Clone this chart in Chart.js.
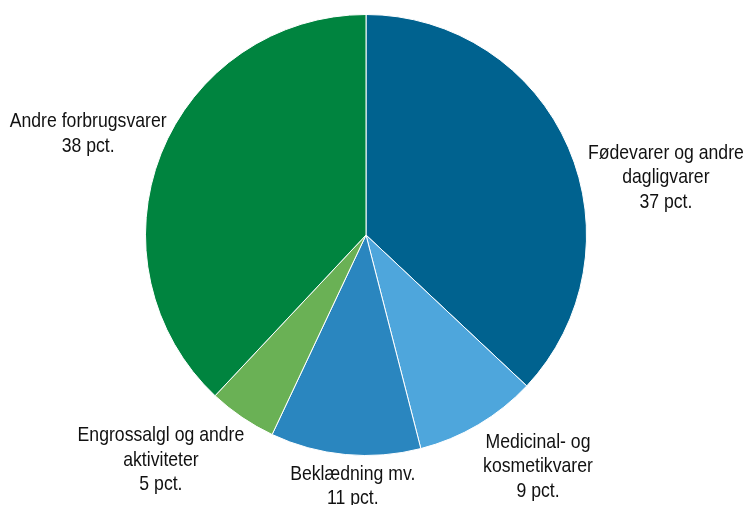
<!DOCTYPE html>
<html>
<head>
<meta charset="utf-8">
<script src="https://cdn.jsdelivr.net/npm/chart.js@4"></script>
<style>
  html, body { margin: 0; padding: 0; background: #fff; }
  #wrap { width: 746px; height: 505px; position: relative; }
</style>
</head>
<body>
<div id="wrap"><canvas id="pieChart"></canvas></div>
<script>
const categories = [
  ['Fødevarer og andre', 'dagligvarer'],
  ['Medicinal- og', 'kosmetikvarer'],
  ['Beklædning mv.'],
  ['Engrossalgl og andre', 'aktiviteter'],
  ['Andre forbrugsvarer']
];
const shares = [37, 9, 11, 5, 38];
const sliceColors = ['#00628f', '#4ea6dc', '#2a86bf', '#6ab155', '#00843f'];

// where each label block sits, relative to the pie centre in units of the radius
const labelPlace = [[1.36, -0.26], [0.78, 1.05], [-0.06, 1.14], [-0.93, 1.02], [-1.26, -0.46]];

// no narrow font installed, so squeeze Liberation Sans sideways
const squeeze = 0.84;

const sliceLabels = {
  id: 'sliceLabels',
  afterDatasetsDraw(chart) {
    const ctx = chart.ctx;
    const meta = chart.getDatasetMeta(0);
    const lh = 24.5;
    meta.data.forEach((arc, i) => {
      const lines = categories[i].concat([shares[i] + ' pct.']);
      const cx = arc.x + labelPlace[i][0] * arc.outerRadius;
      const cy = arc.y + labelPlace[i][1] * arc.outerRadius;
      const top = cy - (lines.length - 1) * lh / 2;
      ctx.save();
      ctx.translate(cx, 0);
      ctx.scale(squeeze, 1);
      ctx.font = '21px "Liberation Sans", Arial, sans-serif';
      ctx.fillStyle = '#111';
      ctx.textAlign = 'center';
      ctx.textBaseline = 'middle';
      lines.forEach((t, k) => ctx.fillText(t, 0, top + k * lh));
      ctx.restore();
    });
  }
};

new Chart(document.getElementById('pieChart'), {
  type: 'pie',
  data: {
    labels: categories.map(c => c.join(' ')),
    datasets: [{
      data: shares,
      backgroundColor: sliceColors,
      borderColor: '#ffffff',
      borderWidth: 1
    }]
  },
  options: {
    responsive: true,
    maintainAspectRatio: false,
    animation: false,
    layout: { padding: { top: 14, bottom: 49, left: 0, right: 14 } },
    plugins: {
      legend: { display: false },
      tooltip: { enabled: false }
    }
  },
  plugins: [sliceLabels]
});
</script>
</body>
</html>
